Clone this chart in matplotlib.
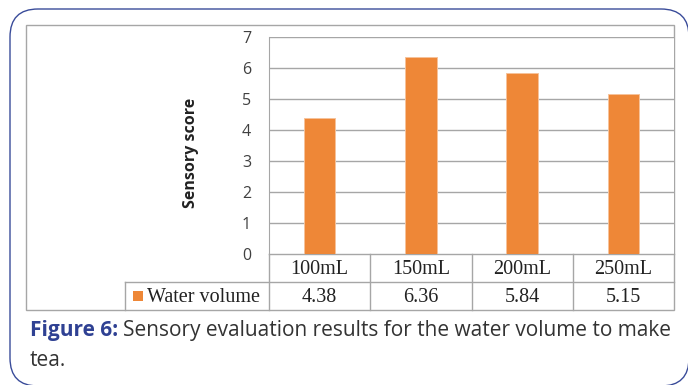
import matplotlib
matplotlib.use('Agg')
import matplotlib.pyplot as plt
from matplotlib.patches import FancyBboxPatch, Rectangle
from matplotlib.transforms import blended_transform_factory
import numpy as np

# data
categories = ['100mL', '150mL', '200mL', '250mL']
scores = [4.38, 6.36, 5.84, 5.15]
series_name = 'Water volume'
yticks = [0, 1, 2, 3, 4, 5, 6, 7]

W, H = 688, 385
bar_col = '#ee8737'
grid_col = '#a6a6a6'
blue = '#3a4c9a'

fig = plt.figure(figsize=(W / 100, H / 100), dpi=100)

# background axes in pixel units for frames / table lines / caption
bg = fig.add_axes([0, 0, 1, 1])
bg.set_xlim(0, W)
bg.set_ylim(H, 0)
bg.axis('off')

bg.add_patch(FancyBboxPatch((10, 9), 679, 377, boxstyle='round,pad=0,rounding_size=28',
                            fc='none', ec=blue, lw=1.0))
bg.add_patch(Rectangle((26, 25), 648, 285, fc='none', ec=grid_col, lw=1.0))

# plot area: x 269..674, y 254 (0) .. 37 (7)
L, R, T, B = 269, 674, 37, 254
ax = fig.add_axes([L / W, 1 - B / H, (R - L) / W, (B - T) / H])
x = np.arange(len(categories))
ax.bar(x, scores, width=0.31, color=bar_col, edgecolor='#f6c29a', lw=0.7, zorder=3)
ax.set_xlim(-0.5, len(categories) - 0.5)
ax.set_ylim(0, 7)
ax.set_yticks(yticks)
ax.set_yticklabels([str(v) for v in yticks], fontfamily='Open Sans', fontsize=11.5, color='#404040')
ax.tick_params(axis='y', length=0, pad=13)
ax.set_xticks([])
ax.grid(axis='y', color=grid_col, lw=1.0, zorder=0)
for s in ['top', 'right', 'bottom']:
    ax.spines[s].set_visible(False)
ax.spines['left'].set_color(grid_col)
ax.set_ylabel('Sensory score', fontfamily='Open Sans', fontweight='bold', fontsize=11.5,
              color='#222222')
ax.yaxis.set_label_coords(-0.172, 0.465)

# data table under the plot, columns follow the axis scale
tr = blended_transform_factory(ax.transData, bg.transData)
row1, row2, row3 = 254, 282, 310
bg.plot([L, R], [row1, row1], color=grid_col, lw=1.0)
bg.plot([125, R], [row2, row2], color=grid_col, lw=1.0)
bg.plot([125, 125], [row2, row3], color=grid_col, lw=1.0)
bg.plot([L, L], [row1, row3], color=grid_col, lw=1.0)
for i in range(1, len(categories)):
    ax.plot([i - 0.5, i - 0.5], [row1, row3], color=grid_col, lw=1.0, transform=tr, clip_on=False)
tfont = dict(fontfamily='Liberation Serif', fontsize=14.5, color='#222222')
for i, (c, v) in enumerate(zip(categories, scores)):
    ax.text(i, (row1 + row2) / 2 + 1, c, transform=tr, ha='center', va='center', **tfont)
    ax.text(i, (row2 + row3) / 2 + 1, f'{v:.2f}', transform=tr, ha='center', va='center', **tfont)
bg.add_patch(Rectangle((133, 291), 10, 10, fc=bar_col, ec='none'))
bg.text(147, (row2 + row3) / 2 + 1, series_name, ha='left', va='center', **tfont)

# caption
t1 = bg.text(30, 336, 'Figure 6:', fontfamily='Open Sans', fontweight='bold', fontsize=15,
             color='#2f4193', va='baseline', ha='left')
fig.canvas.draw()
ext = t1.get_window_extent()
x1 = bg.transData.inverted().transform((ext.x1, 0))[0]
bg.text(x1 + 5, 336, 'Sensory evaluation results for the water volume to make',
        fontfamily='Open Sans', fontsize=15, color='#333333', va='baseline', ha='left')
bg.text(30, 366, 'tea.', fontfamily='Open Sans', fontsize=15, color='#333333',
        va='baseline', ha='left')

fig.savefig('out.png', dpi=100)
